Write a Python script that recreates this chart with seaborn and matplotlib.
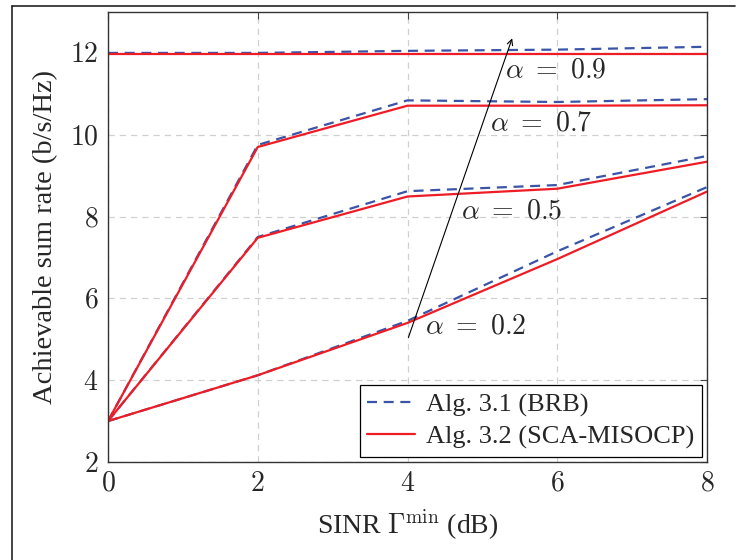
import numpy as np
import pandas as pd
import matplotlib
matplotlib.use("Agg")
import matplotlib.pyplot as plt
from matplotlib.lines import Line2D
from matplotlib.ticker import FuncFormatter
import seaborn as sns

# ---- data ----
sinr_db = [0, 2, 4, 6, 8]
alphas = ["0.2", "0.5", "0.7", "0.9"]
brb_02 = [3.0, 4.12, 5.45, 7.15, 8.72]
brb_05 = [3.0, 7.50, 8.62, 8.77, 9.48]
brb_07 = [3.0, 9.75, 10.84, 10.80, 10.87]
brb_09 = [12.0, 12.0, 12.05, 12.08, 12.15]
sca_02 = [3.0, 4.12, 5.40, 6.96, 8.61]
sca_05 = [3.0, 7.48, 8.49, 8.68, 9.34]
sca_07 = [3.0, 9.70, 10.71, 10.71, 10.72]
sca_09 = [11.97, 11.97, 11.97, 11.97, 11.97]
legend_labels = ["Alg. 3.1 (BRB)", "Alg. 3.2 (SCA-MISOCP)"]
x_ticks = [0, 2, 4, 6, 8]
y_ticks = [2, 4, 6, 8, 10, 12]

rows = []
for a, b, s in zip(alphas, [brb_02, brb_05, brb_07, brb_09], [sca_02, sca_05, sca_07, sca_09]):
    for xi, bv, sv in zip(sinr_db, b, s):
        rows.append({"x": xi, "rate": bv, "alpha": a, "method": legend_labels[0]})
        rows.append({"x": xi, "rate": sv, "alpha": a, "method": legend_labels[1]})
df = pd.DataFrame(rows)

sns.set_style("white")
plt.rcParams["font.family"] = ["Liberation Serif", "DejaVu Serif"]
plt.rcParams["mathtext.fontset"] = "cm"

blue = "#3a54a8"
red = "#ee1c25"

fig = plt.figure(figsize=(7.37, 5.60), dpi=100)
ax = fig.add_axes([108 / 737, 1 - 462 / 560, (707 - 108) / 737, (462 - 12) / 560])

sns.lineplot(data=df[df.method == legend_labels[0]], x="x", y="rate", units="alpha",
             estimator=None, color=blue, lw=1.6, dashes=False, ax=ax, zorder=3,
             linestyle=(0, (4.5, 3)), legend=False)
sns.lineplot(data=df[df.method == legend_labels[1]], x="x", y="rate", units="alpha",
             estimator=None, color=red, lw=1.6, ax=ax, zorder=4, legend=False)

ax.set_xlim(0, 8)
ax.set_ylim(2, 13)
ax.set_xticks(x_ticks)
ax.set_yticks(y_ticks)
fmt = FuncFormatter(lambda v, p: r"$%d$" % v)
ax.xaxis.set_major_formatter(fmt)
ax.yaxis.set_major_formatter(fmt)
ax.tick_params(direction="in", top=True, right=True, length=5, width=0.8,
               color="#444444", labelsize=20, pad=7)
ax.grid(True, color="#d0d0d0", linestyle=(0, (5, 4)), lw=0.9, zorder=0)
for sp in ax.spines.values():
    sp.set_color("#333333")
    sp.set_linewidth(1.0)
    sp.set_zorder(5)

ax.set_xlabel(r"SINR $\Gamma^{\mathrm{min}}$ (dB)", fontsize=20, labelpad=8)
ax.set_ylabel("Achievable sum rate (b/s/Hz)", fontsize=20.5, labelpad=8)

# annotations
ax.annotate("", xy=(5.41, 12.42), xytext=(4.0, 4.98),
            arrowprops=dict(arrowstyle="->", color="black", lw=0.8), zorder=6)
for tx, ty, lab in [(5.3, 11.55, "0.9"), (5.1, 10.25, "0.7"), (4.71, 8.1, "0.5"), (4.23, 5.3, "0.2")]:
    ax.text(tx, ty, r"$\alpha\ =\ %s$" % lab, fontsize=20, va="center", ha="left", zorder=6)

handles = [Line2D([0], [0], color=blue, lw=1.6, linestyle=(0, (4.5, 3))),
           Line2D([0], [0], color=red, lw=1.6)]
leg = ax.legend(handles, legend_labels, loc="lower right", fontsize=19, frameon=True,
                fancybox=False, edgecolor="black", framealpha=1, borderaxespad=0.2,
                handlelength=1.8, handletextpad=0.4, borderpad=0.3, labelspacing=0.3)
leg.get_frame().set_linewidth(0.9)
leg.set_zorder(10)

# outer frame (top and left lines)
fig.add_artist(Line2D([12 / 737, 12 / 737], [0, 1 - 6 / 560], transform=fig.transFigure,
                      color="#222222", lw=1.2))
fig.add_artist(Line2D([12 / 737, 735 / 737], [1 - 6 / 560, 1 - 6 / 560], transform=fig.transFigure,
                      color="#222222", lw=1.2))

fig.savefig("out.png", dpi=100)
